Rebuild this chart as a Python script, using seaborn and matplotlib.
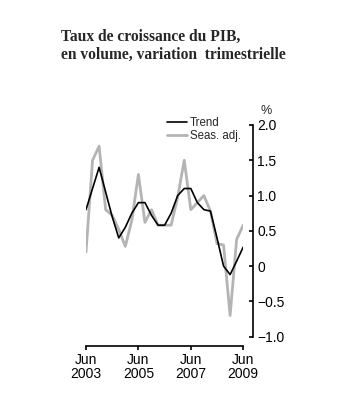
import numpy as np
import pandas as pd
import matplotlib
matplotlib.use("Agg")
import matplotlib.pyplot as plt
import seaborn as sns
from matplotlib.lines import Line2D

# Quarterly data, Jun 2003 .. Jun 2009
quarters = ["Jun03", "Sep03", "Dec03", "Mar04", "Jun04", "Sep04", "Dec04", "Mar05",
            "Jun05", "Sep05", "Dec05", "Mar06", "Jun06", "Sep06", "Dec06", "Mar07",
            "Jun07", "Sep07", "Dec07", "Mar08", "Jun08", "Sep08", "Dec08", "Mar09", "Jun09"]
trend = [0.8, 1.1, 1.4, 1.05, 0.7, 0.4, 0.55, 0.75, 0.9, 0.9, 0.72, 0.58, 0.58,
         0.75, 1.0, 1.1, 1.1, 0.9, 0.8, 0.78, 0.4, 0.0, -0.12, 0.07, 0.27]
seas_adj = [0.2, 1.5, 1.7, 0.8, 0.72, 0.52, 0.28, 0.65, 1.3, 0.62, 0.8, 0.58, 0.58,
            0.58, 0.98, 1.5, 0.8, 0.9, 1.0, 0.78, 0.32, 0.3, -0.7, 0.38, 0.58]
xtick_pos = [0, 8, 16, 24]
xtick_labels = ["Jun\n2003", "Jun\n2005", "Jun\n2007", "Jun\n2009"]
yticks = [-1.0, -0.5, 0.0, 0.5, 1.0, 1.5, 2.0]
ytick_labels = ["\u22121.0", "\u22120.5", "0", "0.5", "1.0", "1.5", "2.0"]
title = "Taux de croissance du PIB,\nen volume, variation  trimestrielle"

n = len(quarters)
df = pd.DataFrame({
    "q": list(range(n)) * 2,
    "value": seas_adj + trend,
    "series": ["Seas. adj."] * n + ["Trend"] * n,
})

sns.set_theme(style="white")
plt.rcParams["font.family"] = ["Liberation Sans", "DejaVu Sans"]

W, H = 337, 405
fig = plt.figure(figsize=(W / 100, H / 100), dpi=100)
left, right, top, bot = 86, 243.2, 125, 336.7
ax = fig.add_axes([left / W, 1 - bot / H, (right - left) / W, (bot - top) / H])

sns.lineplot(data=df, x="q", y="value", hue="series",
             palette={"Trend": "#000000", "Seas. adj.": "#b4b4b4"},
             hue_order=["Seas. adj.", "Trend"], ax=ax, legend=False)
lines = ax.get_lines()
lines[0].set_linewidth(2.0)
lines[1].set_linewidth(1.2)
lines[1].set_zorder(3)

ax.set_xlim(0, 24)
ax.set_ylim(-1.0, 2.0)
ax.set_xlabel("")
ax.set_ylabel("")

for s in ["top", "left"]:
    ax.spines[s].set_visible(False)
ax.spines["right"].set_position(("outward", 7))
ax.spines["bottom"].set_position(("outward", 7))
for s in ["right", "bottom"]:
    ax.spines[s].set_visible(True)
    ax.spines[s].set_color("black")
    ax.spines[s].set_linewidth(1.2)

ax.yaxis.tick_right()
ax.set_yticks(yticks)
ax.set_yticklabels(ytick_labels)
ax.tick_params(axis="y", direction="in", length=3, width=1.2, pad=3,
               labelsize=10, colors="black", left=False, right=True)
ax.set_xticks(xtick_pos)
ax.set_xticklabels(xtick_labels, linespacing=1.0)
ax.tick_params(axis="x", direction="out", length=3, width=1.2, pad=1.5,
               labelsize=10, colors="black", bottom=True)

fig.text(266 / W, 1 - 111 / H, "%", ha="center", va="center", fontsize=9)

handles = [Line2D([0], [0], color="#000000", lw=1.2),
           Line2D([0], [0], color="#b4b4b4", lw=2.0)]
fig.legend(handles, ["Trend", "Seas. adj."], loc="upper left",
           bbox_to_anchor=(159 / W, 1 - 109 / H), frameon=False, fontsize=8.3,
           handlelength=1.7, handletextpad=0.25, labelspacing=0.1,
           borderpad=0.2)

fig.text(61 / W, 1 - 29 / H, title, ha="left", va="top",
         fontsize=11.2, fontweight="bold", family=["Liberation Serif", "DejaVu Serif"],
         linespacing=1.15)

fig.savefig("out.png", dpi=100, facecolor="white")
